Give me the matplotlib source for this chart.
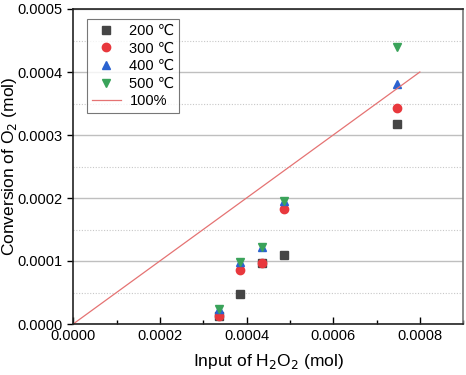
import numpy as np
import matplotlib
matplotlib.use("Agg")
import matplotlib.pyplot as plt
from matplotlib.ticker import MultipleLocator

plt.rcParams['font.family'] = ['Liberation Sans', 'DejaVu Sans', 'Noto Sans CJK SC']

# H2O2 input (mol)
x_input = [0.000337, 0.000386, 0.000436, 0.000487, 0.000747]

# O2 conversion (mol) per temperature
y_200 = [0.000012, 0.0000476, 0.0000968, 0.000110, 0.000318]
y_300 = [0.000012, 0.0000852, 0.0000968, 0.000183, 0.000343]
y_400 = [0.000024, 0.000098, 0.000122, 0.000195, 0.000381]
y_500 = [0.000024, 0.000098, 0.000122, 0.000195, 0.000439]

line_x = [0.0, 0.0008]
line_y = [0.0, 0.0004]

fig = plt.figure(figsize=(4.66, 3.75), dpi=100)
ax = fig.add_axes([0.157, 0.136, 0.837, 0.840])

ax.yaxis.set_minor_locator(MultipleLocator(0.00005))
ax.xaxis.set_minor_locator(MultipleLocator(0.0001))
ax.grid(True, which='major', axis='y', color='#bfbfbf', lw=1.0)
ax.grid(True, which='minor', axis='y', color='#c8c8c8', lw=0.8, ls=(0, (1, 1.5)))
ax.set_axisbelow(True)

ms = 5.5
ax.plot(x_input, y_200, 's', color='#454545', ms=ms, label='200 ℃')
ax.plot(x_input, y_300, 'o', color='#e8383d', ms=ms + 0.5, label='300 ℃')
ax.plot(x_input, y_400, '^', color='#2b63d0', ms=ms + 0.5, label='400 ℃')
ax.plot(x_input, y_500, 'v', color='#3aa35a', ms=ms + 0.5, label='500 ℃')
ax.plot(line_x, line_y, '-', color='#e57373', lw=0.9, label='100%')

ax.set_xlim(0, 0.0009)
ax.set_ylim(0, 0.0005)
ax.set_xticks([0, 0.0002, 0.0004, 0.0006, 0.0008])
ax.set_yticks([0, 0.0001, 0.0002, 0.0003, 0.0004, 0.0005])
ax.set_xticklabels(['0.0000', '0.0002', '0.0004', '0.0006', '0.0008'])
ax.set_yticklabels(['0.0000', '0.0001', '0.0002', '0.0003', '0.0004', '0.0005'])

ax.tick_params(axis='x', which='major', direction='in', length=5, width=1, labelsize=10.5)
ax.tick_params(axis='x', which='minor', direction='in', length=3, width=1)
ax.tick_params(axis='y', which='major', direction='out', length=4, width=1, labelsize=10.5)
ax.tick_params(axis='y', which='minor', length=0)

for s in ax.spines.values():
    s.set_linewidth(1.2)
    s.set_color('#222222')
ax.spines['right'].set_color('#777777')

ax.set_xlabel('Input of H$_2$O$_2$ (mol)', fontsize=12.5)
ax.set_ylabel('Conversion of O$_2$ (mol)', fontsize=12.5)
ax.xaxis.set_label_coords(0.5, -0.09)
ax.yaxis.set_label_coords(-0.138, 0.5)

leg = ax.legend(loc='upper left', bbox_to_anchor=(0.036, 0.967), fontsize=10.5,
                frameon=True, fancybox=False, edgecolor='#555555',
                handlelength=2.0, borderpad=0.3, labelspacing=0.25, handletextpad=0.6,
                borderaxespad=0)
leg.get_frame().set_linewidth(0.8)

fig.savefig('out.png', dpi=100)
